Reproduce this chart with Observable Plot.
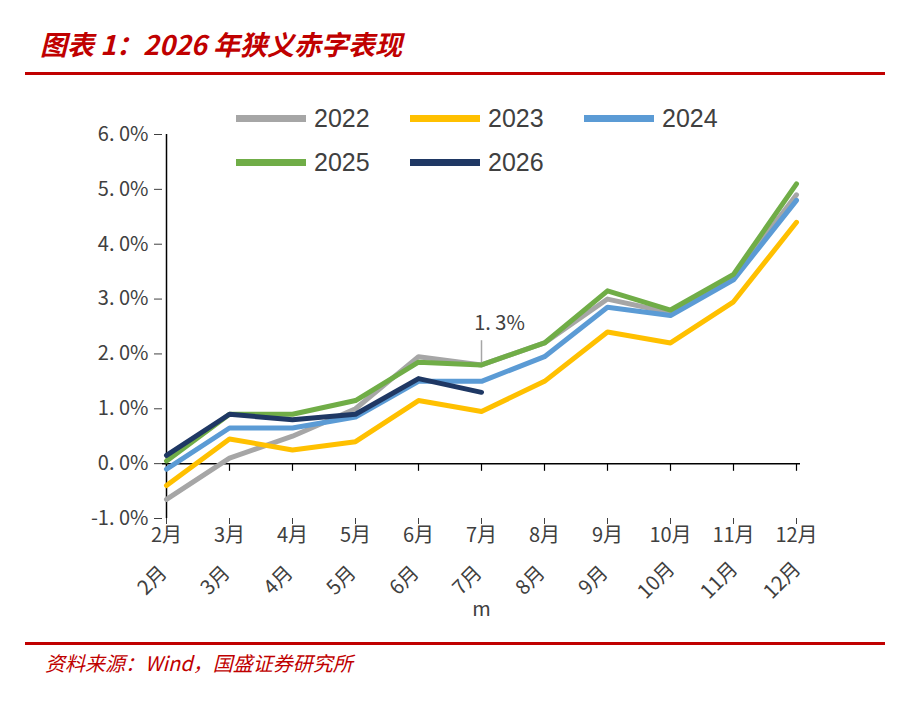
<!DOCTYPE html>
<html><head><meta charset="utf-8">
<script src="https://cdn.jsdelivr.net/npm/d3@7"></script>
<script src="https://cdn.jsdelivr.net/npm/@observablehq/plot@0.6"></script>
<style>
body{margin:0;background:#fff;font-family:"Noto Sans CJK SC",sans-serif;}
#wrap{position:relative;width:907px;height:705px;}
#title{position:absolute;left:40px;top:24px;font-size:27px;font-weight:bold;font-style:italic;color:#c00000;}
.rule{position:absolute;left:25px;width:860px;height:3px;background:#c00000;}
#chart{position:absolute;left:0;top:85px;}
#src{position:absolute;left:45px;top:648px;font-size:20px;font-style:italic;color:#c00000;}
#legend{position:absolute;left:236px;top:104px;font-family:Arial,"Liberation Sans",sans-serif;font-size:25px;color:#404040;}
.li{position:absolute;display:flex;align-items:center;white-space:nowrap;}
.sw{width:70px;height:7px;margin-right:8px;}
</style></head><body>
<div id="wrap">
<div id="title">图表 1：2026 年狭义赤字表现</div>
<div class="rule" style="top:72px"></div>
<div id="chart"></div>
<div id="legend"></div>
<div class="rule" style="top:642px"></div>
<div id="src">资料来源：Wind，国盛证券研究所</div>
</div>
<script>
const months=["2月","3月","4月","5月","6月","7月","8月","9月","10月","11月","12月"];
const years=["2022","2023","2024","2025","2026"];
const colors=["#a6a6a6","#ffc000","#5b9bd5","#70ad47","#1f3864"];
const v2022=[-0.65,0.1,0.5,1.0,1.95,1.8,2.2,3.0,2.75,3.4,4.9];
const v2023=[-0.4,0.45,0.25,0.4,1.15,0.95,1.5,2.4,2.2,2.95,4.4];
const v2024=[-0.1,0.65,0.65,0.85,1.5,1.5,1.95,2.85,2.7,3.35,4.8];
const v2025=[0.05,0.9,0.9,1.15,1.85,1.8,2.2,3.15,2.8,3.45,5.1];
const v2026=[0.15,0.9,0.8,0.9,1.55,1.3];
const yTicks=[-1,0,1,2,3,4,5,6];
const series=[v2022,v2023,v2024,v2025,v2026];
const data=[];
series.forEach((s,i)=>s.forEach((v,j)=>data.push({year:years[i],m:months[j],v})));
const fmt=d=>d.toFixed(1).replace(".",". ")+"%";
const chart=Plot.plot({
  width:907,height:533,marginLeft:162,marginRight:107,marginTop:49,marginBottom:100,
  style:{fontFamily:"'Noto Sans CJK SC',sans-serif",fontSize:"20px",color:"#404040"},
  x:{type:"point",domain:months,padding:0},
  y:{domain:[-1,6]},
  color:{domain:years,range:colors},
  marks:[
    Plot.ruleX([months[0]],{y1:-1,y2:6,stroke:"#000",strokeWidth:1.5}),
    Plot.axisY({ticks:yTicks,tickFormat:fmt,tickSize:8,tickPadding:6,fontSize:20,label:null}),
    Plot.ruleY([0],{stroke:"#000",strokeWidth:1.5}),
    Plot.ruleX(months,{x:d=>d,y1:0,y2:-0.14,stroke:"#000",strokeWidth:1.2}),
    Plot.text(months,{x:d=>d,y:-1,text:d=>d,rotate:-45,dy:62,dx:-14,fontSize:20,textAnchor:"middle",fill:"#404040"}),
    Plot.line(data,{x:"m",y:"v",stroke:"year",strokeWidth:5}),
    Plot.link([{m:"7月"}],{x1:"m",x2:"m",y1:()=>1.85,y2:()=>2.25,stroke:"#a6a6a6",strokeWidth:1.5}),
    Plot.text([{m:"7月"}],{x:"m",y:()=>2.55,text:()=>"1. 3%",dx:18,fontSize:20,fill:"#404040"})
  ]
});
document.getElementById("chart").appendChild(chart);
const pos=[[0,0],[174,0],[348,0],[0,44],[174,44]];
const lg=document.getElementById("legend");
years.forEach((y,i)=>{const d=document.createElement("div");d.className="li";d.style.left=pos[i][0]+"px";d.style.top=pos[i][1]+"px";
d.innerHTML=`<div class="sw" style="background:${colors[i]}"></div>${y}`;lg.appendChild(d);});
</script></body></html>
